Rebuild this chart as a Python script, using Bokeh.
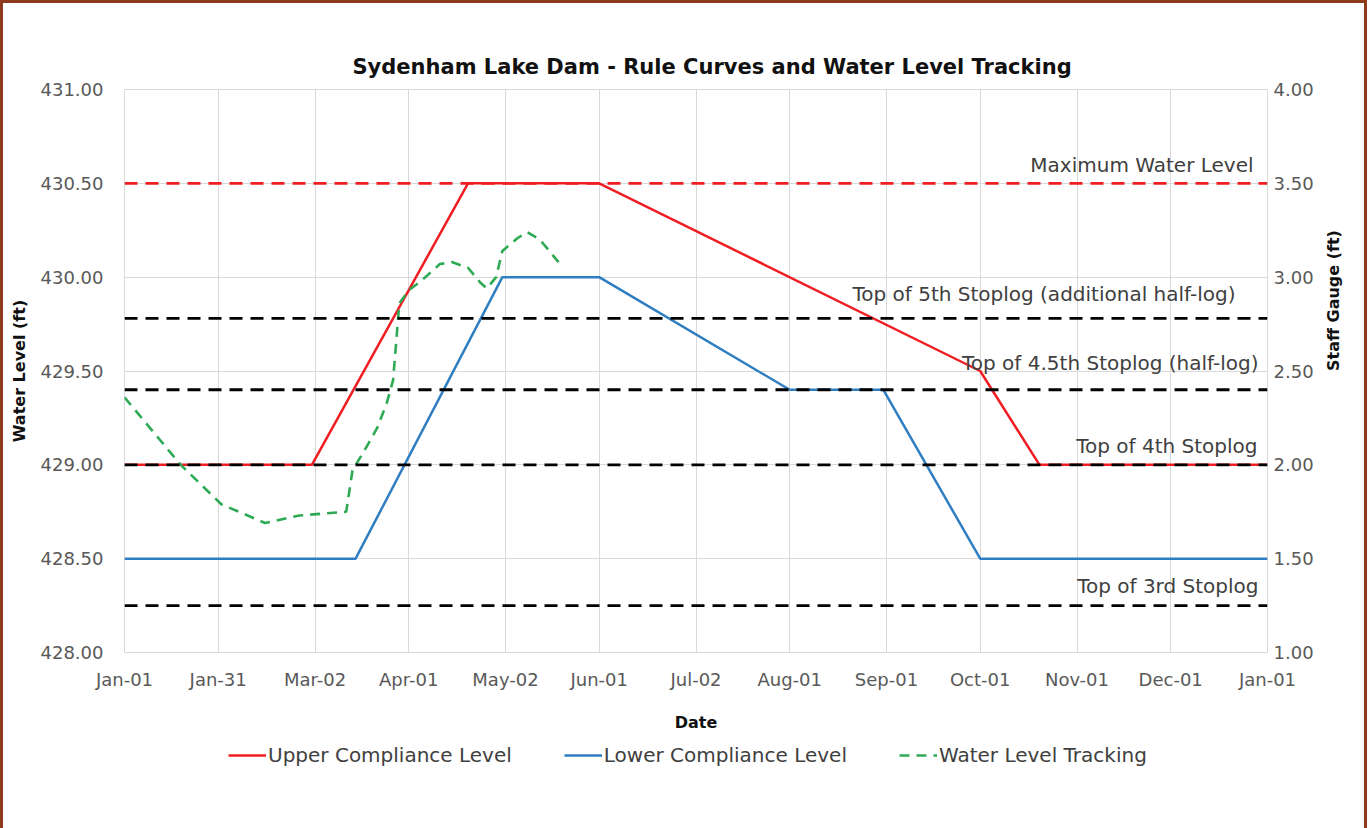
import math
import pandas as pd
from bokeh.plotting import figure
from bokeh.layouts import column
from bokeh.models import (Range1d, LinearAxis, FixedTicker, DatetimeTickFormatter, Legend,
                          LegendItem, Label, NumeralTickFormatter, SingleIntervalTicker, Span)
from bokeh.embed import file_html
from bokeh.resources import INLINE

# ---------------- data ----------------
upper_dates = ["2020-01-01", "2020-03-01", "2020-04-20", "2020-06-01", "2020-10-01", "2020-10-20", "2021-01-01"]
upper_levels = [429.00, 429.00, 430.50, 430.50, 429.50, 429.00, 429.00]

lower_dates = ["2020-01-01", "2020-03-15", "2020-05-01", "2020-06-01", "2020-08-01", "2020-08-31", "2020-10-01", "2021-01-01"]
lower_levels = [428.50, 428.50, 430.00, 430.00, 429.40, 429.40, 428.50, 428.50]

tracking_dates = ["2020-01-01", "2020-01-19", "2020-02-01", "2020-02-15", "2020-02-26", "2020-03-12",
                  "2020-03-14", "2020-03-19", "2020-03-22", "2020-03-25", "2020-03-27", "2020-03-29",
                  "2020-04-01", "2020-04-05", "2020-04-11", "2020-04-15", "2020-04-20", "2020-04-24",
                  "2020-04-26", "2020-04-29", "2020-05-01", "2020-05-06", "2020-05-09", "2020-05-13",
                  "2020-05-19"]
tracking_levels = [429.36, 429.00, 428.79, 428.69, 428.73, 428.75,
                   428.97, 429.11, 429.20, 429.33, 429.45, 429.86,
                   429.93, 429.98, 430.07, 430.08, 430.05, 429.97,
                   429.94, 430.00, 430.14, 430.21, 430.24, 430.20,
                   430.08]

series_names = ["Upper Compliance Level", "Lower Compliance Level", "Water Level Tracking"]

ref_names = ["Maximum Water Level", "Top of 5th Stoplog (additional half-log)",
             "Top of 4.5th Stoplog (half-log)", "Top of 4th Stoplog", "Top of 3rd Stoplog"]
ref_levels = [430.50, 429.78, 429.40, 429.00, 428.25]

tick_dates = ["2020-01-01", "2020-01-31", "2020-03-02", "2020-04-01", "2020-05-02", "2020-06-01",
              "2020-07-02", "2020-08-01", "2020-09-01", "2020-10-01", "2020-11-01", "2020-12-01",
              "2021-01-01"]

# ---------------- styling ----------------
FONT = "DejaVu Sans"
RED = "#F01E23"
BLUE = "#2F7EC1"
GREEN = "#2EAA55"
BORDER = "#8E3B1C"
series_styles = [dict(line_color=RED, line_width=2.5),
                 dict(line_color=BLUE, line_width=2.5),
                 dict(line_color=GREEN, line_width=2.6, line_dash="10 7")]
ref_colors = [RED, "black", "black", "black", "black"]
ref_x_offsets = [-14, -32, -9, -10, -9]
ref_y_offsets = [6, 12, 15, 7, 8]

def ms(d):
    return pd.Timestamp(d).value // 10**6

x_start, x_end = pd.Timestamp(tick_dates[0]), pd.Timestamp(tick_dates[-1])

p = figure(frame_width=1143, frame_height=563, x_axis_type="datetime",
           x_range=Range1d(x_start, x_end), y_range=Range1d(428, 431),
           output_backend="svg", toolbar_location=None,
           min_border_left=121, min_border_right=97, min_border_top=86, min_border_bottom=88,
           background_fill_color="white", border_fill_color="white")
p.outline_line_color = "#D9D9D9"

p.title.text = "Sydenham Lake Dam - Rule Curves and Water Level Tracking"
p.title.align = "left"
p.title.offset = 228
p.title.text_font = FONT
p.title.text_font_size = "21px"
p.title.text_font_style = "bold"
p.title.text_color = "#111111"
p.title.standoff = 22

# x axis
xa = p.xaxis[0]
xa.ticker = FixedTicker(ticks=[ms(d) for d in tick_dates])
fmt = "%b-%d"
xa.formatter = DatetimeTickFormatter(microseconds=fmt, milliseconds=fmt, seconds=fmt, minsec=fmt,
                                     minutes=fmt, hourmin=fmt, hours=fmt, days=fmt, months=fmt, years=fmt)
xa.axis_label = "Date"
p.xgrid.ticker = xa.ticker

# left axis
ya = p.yaxis[0]
ya.ticker = SingleIntervalTicker(interval=0.5)
ya.formatter = NumeralTickFormatter(format="0.00")
ya.axis_label = "Water Level (ft)"
p.ygrid.ticker = ya.ticker

# right axis
p.extra_y_ranges = {"gauge": Range1d(1, 4)}
ra = LinearAxis(y_range_name="gauge", ticker=SingleIntervalTicker(interval=0.5),
                formatter=NumeralTickFormatter(format="0.00"), axis_label="Staff Gauge (ft)")
p.add_layout(ra, "right")

for ax in [xa, ya, ra]:
    ax.axis_line_color = None
    ax.major_tick_line_color = None
    ax.minor_tick_line_color = None
    ax.major_label_text_font = FONT
    ax.major_label_text_font_size = "18px"
    ax.major_label_text_color = "#595959"
    ax.axis_label_text_font = FONT
    ax.axis_label_text_font_size = "16px"
    ax.axis_label_text_font_style = "bold"
    ax.axis_label_text_color = "#111111"

xa.major_label_standoff = 10
xa.axis_label_standoff = 20
ya.major_label_standoff = 15
ya.axis_label_standoff = 9
ra.major_label_standoff = 0
ra.axis_label_standoff = 17
if hasattr(ra, "axis_label_orientation"):
    ra.axis_label_orientation = math.pi / 2

p.xgrid.grid_line_color = "#D9D9D9"
p.ygrid.grid_line_color = "#D9D9D9"

# reference lines
for name, lvl, col, xo, yo in zip(ref_names, ref_levels, ref_colors, ref_x_offsets, ref_y_offsets):
    p.add_layout(Span(location=lvl, dimension="width", line_color=col, line_width=2.8,
                      line_dash="13 8"))
    p.add_layout(Label(x=ms(tick_dates[-1]), y=lvl, text=name, x_offset=xo, y_offset=yo,
                       text_align="right", text_baseline="bottom", text_font=FONT,
                       text_font_size="20px", text_color="#404040"))

ud = pd.to_datetime(upper_dates)
ld = pd.to_datetime(lower_dates)
td = pd.to_datetime(tracking_dates)
series_x = [ud, ld, td]
series_y = [upper_levels, lower_levels, tracking_levels]

for sx, sy, st in zip(series_x, series_y, series_styles):
    p.line(sx, sy, **st)

# ---------------- legend strip below the chart ----------------
leg = figure(width=1361, height=88, x_range=Range1d(0, 1), y_range=Range1d(0, 1),
             output_backend="svg", toolbar_location=None,
             x_axis_location=None, y_axis_location=None,
             min_border_left=0, min_border_right=0, min_border_top=0, min_border_bottom=0,
             background_fill_color="white", border_fill_color="white")
leg.outline_line_color = None
leg.xgrid.visible = False
leg.ygrid.visible = False
items = []
for name, sx, sy, st in zip(series_names, series_x, series_y, series_styles):
    # same series, outside this strip's view: only its legend swatch shows
    r = leg.line(sx, sy, **st)
    items.append(LegendItem(label=name, renderers=[r]))
legend = Legend(items=items, orientation="horizontal", location=(104, 61),
                glyph_width=38, glyph_height=20, label_standoff=2, spacing=52,
                padding=0, margin=0, border_line_color=None, background_fill_alpha=0,
                label_text_font=FONT, label_text_font_size="20px", label_text_color="#404040")
leg.add_layout(legend, "center")

layout = column(p, leg, spacing=0,
                styles={"border-left": f"3px solid {BORDER}", "border-top": f"3px solid {BORDER}",
                        "border-right": f"3px solid {BORDER}"})
open("out.html", "w").write(file_html(layout, INLINE))
